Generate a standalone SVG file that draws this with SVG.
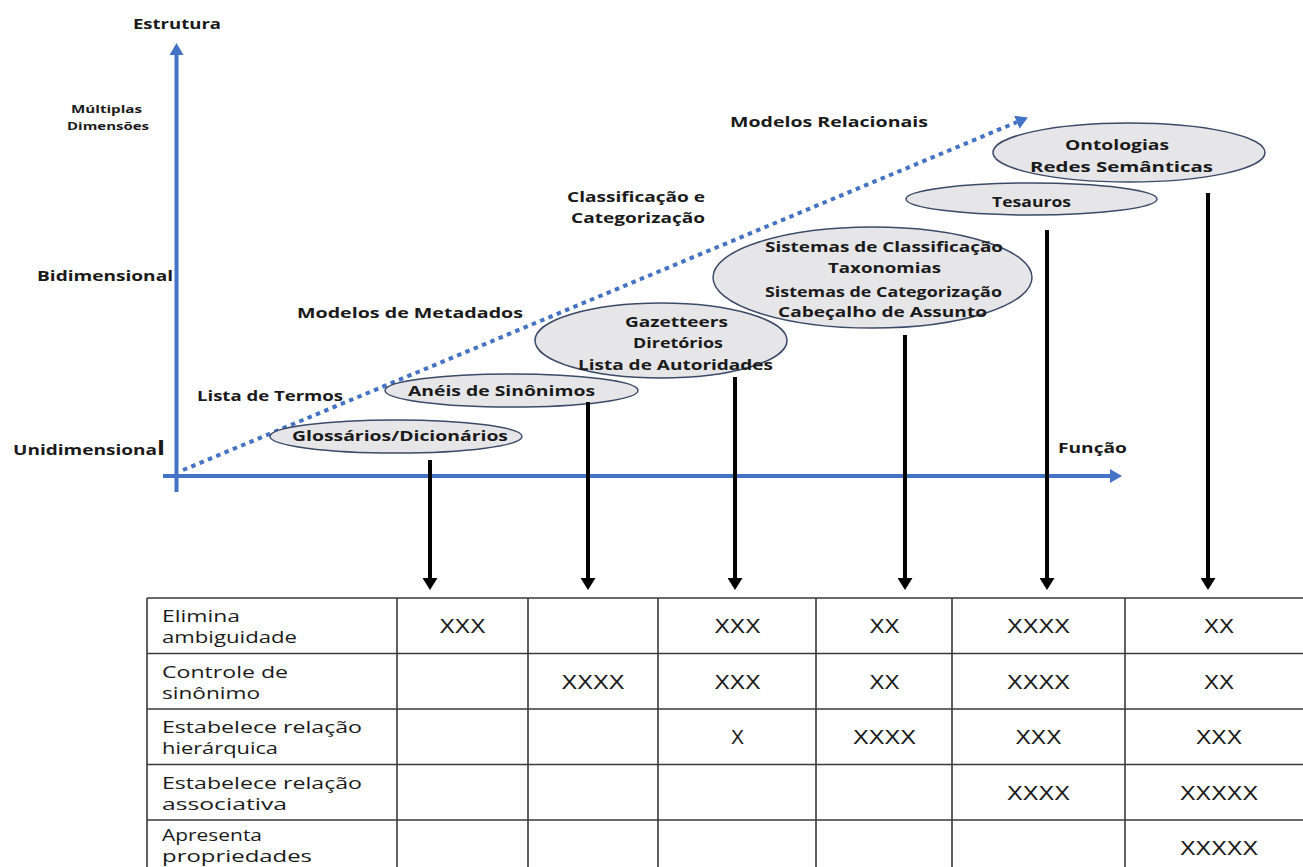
<svg xmlns="http://www.w3.org/2000/svg" width="1303" height="867" viewBox="0 0 1303 867">
<style>
.lb{font-family:"Open Sans",Lato,"Liberation Sans",sans-serif;font-weight:bold;font-size:14.5px;fill:#1a1a1a}
.sm{font-size:10.5px}
.el{fill:#e6e6e9;stroke:#3b4a66;stroke-width:1.5}
.ax{stroke:#4472c4;stroke-width:4;fill:none}
.dot{stroke:#4472c4;stroke-width:4;fill:none;stroke-dasharray:4.5 4.5}
.ar{stroke:#000;stroke-width:4;fill:none}
.tbl{stroke:#3a3a3a;stroke-width:1.6;fill:none}
.tl{font-family:"Open Sans","Liberation Sans",sans-serif;font-size:15.5px;fill:#1a1a1a}
.xc{font-family:"Liberation Sans",Arial,sans-serif;font-size:19.5px;fill:#1a1a1a;text-anchor:middle}
</style>
<defs>
<marker id="bk" markerUnits="userSpaceOnUse" viewBox="0 0 12 15" markerWidth="12" markerHeight="15" refX="0" refY="7.5" orient="auto"><path d="M0,0 L12,7.5 L0,15 z" fill="#000"/></marker>
<marker id="bl" markerUnits="userSpaceOnUse" viewBox="0 0 12 14" markerWidth="12" markerHeight="14" refX="0" refY="7" orient="auto"><path d="M0,0 L12,7 L0,14 z" fill="#4472c4"/></marker>
</defs>
<rect width="1303" height="867" fill="#fff"/>

<g id="axes">
<line class="ax" x1="176.5" y1="492" x2="176.5" y2="55" marker-end="url(#bl)"/>
<line class="ax" x1="163" y1="476" x2="1110" y2="476" marker-end="url(#bl)"/>
<line class="dot" x1="183" y1="470" x2="1016.8" y2="122.2" marker-end="url(#bl)"/>
</g>

<g id="axis-labels">
<text class="lb" x="133" y="29" font-size="15.5" textLength="88" lengthAdjust="spacingAndGlyphs">Estrutura</text>
<text class="lb sm" x="71" y="113" textLength="71" lengthAdjust="spacingAndGlyphs">Múltiplas</text>
<text class="lb sm" x="67" y="130" textLength="82" lengthAdjust="spacingAndGlyphs">Dimensões</text>
<text class="lb" x="37" y="281" textLength="136" lengthAdjust="spacingAndGlyphs">Bidimensional</text>
<text class="lb" x="13" y="455" textLength="152" lengthAdjust="spacingAndGlyphs">Unidimensiona<tspan font-size="20">l</tspan></text>
<text class="lb" x="197" y="401" textLength="146" lengthAdjust="spacingAndGlyphs">Lista de Termos</text>
<text class="lb" x="297" y="318" textLength="226" lengthAdjust="spacingAndGlyphs">Modelos de Metadados</text>
<text class="lb" x="567" y="202" textLength="138" lengthAdjust="spacingAndGlyphs">Classificação e</text>
<text class="lb" x="571" y="223" textLength="134" lengthAdjust="spacingAndGlyphs">Categorização</text>
<text class="lb" x="730" y="127" textLength="198" lengthAdjust="spacingAndGlyphs">Modelos Relacionais</text>
<text class="lb" x="1058" y="453" textLength="69" lengthAdjust="spacingAndGlyphs">Função</text>
</g>

<g id="n-glossarios">
<ellipse class="el" cx="396" cy="436.5" rx="126" ry="16.5"/>
<text class="lb" x="292" y="441" textLength="216" lengthAdjust="spacingAndGlyphs">Glossários/Dicionários</text>
</g>
<g id="n-aneis">
<ellipse class="el" cx="511.5" cy="390.5" rx="126.5" ry="16.5"/>
<text class="lb" x="408" y="396" textLength="187" lengthAdjust="spacingAndGlyphs">Anéis de Sinônimos</text>
</g>
<g id="n-gazetteers">
<ellipse class="el" cx="661" cy="340.5" rx="126" ry="37.5"/>
<text class="lb" x="625" y="327" textLength="103" lengthAdjust="spacingAndGlyphs">Gazetteers</text>
<text class="lb" x="633" y="348" textLength="90" lengthAdjust="spacingAndGlyphs">Diretórios</text>
<text class="lb" x="578" y="370" textLength="195" lengthAdjust="spacingAndGlyphs">Lista de Autoridades</text>
</g>
<g id="n-sistemas">
<ellipse class="el" cx="872.5" cy="277.5" rx="159.5" ry="50.5"/>
<text class="lb" x="765" y="252" textLength="238" lengthAdjust="spacingAndGlyphs">Sistemas de Classificação</text>
<text class="lb" x="828" y="273" textLength="113" lengthAdjust="spacingAndGlyphs">Taxonomias</text>
<text class="lb" x="765" y="297" textLength="237" lengthAdjust="spacingAndGlyphs">Sistemas de Categorização</text>
<text class="lb" x="778" y="317" textLength="209" lengthAdjust="spacingAndGlyphs">Cabeçalho de Assunto</text>
</g>
<g id="n-tesauros">
<ellipse class="el" cx="1031.5" cy="199" rx="125.5" ry="16"/>
<text class="lb" x="992" y="207" textLength="79" lengthAdjust="spacingAndGlyphs">Tesauros</text>
</g>
<g id="n-ontologias">
<ellipse class="el" cx="1129" cy="152.5" rx="136" ry="29.5"/>
<text class="lb" x="1065" y="150" textLength="104" lengthAdjust="spacingAndGlyphs">Ontologias</text>
<text class="lb" x="1030" y="172" textLength="183" lengthAdjust="spacingAndGlyphs">Redes Semânticas</text>
</g>

<g id="connectors">
<line class="ar" x1="430" y1="460" x2="430" y2="578" marker-end="url(#bk)"/>
<line class="ar" x1="588" y1="402" x2="588" y2="578" marker-end="url(#bk)"/>
<line class="ar" x1="735" y1="377" x2="735" y2="578" marker-end="url(#bk)"/>
<line class="ar" x1="905" y1="335" x2="905" y2="578" marker-end="url(#bk)"/>
<line class="ar" x1="1047" y1="230" x2="1047" y2="578" marker-end="url(#bk)"/>
<line class="ar" x1="1208" y1="193" x2="1208" y2="578" marker-end="url(#bk)"/>
</g>

<g id="table">
<path class="tbl" d="M147,598H1303 M147,653.5H1303 M147,709H1303 M147,764.5H1303 M147,820H1303 M147,598V867 M397,598V867 M528,598V867 M658,598V867 M816,598V867 M952,598V867 M1125,598V867"/>
<text class="tl" x="162" y="622" textLength="78" lengthAdjust="spacingAndGlyphs">Elimina</text>
<text class="tl" x="162" y="643" textLength="135" lengthAdjust="spacingAndGlyphs">ambiguidade</text>
<text class="tl" x="162" y="677.5" textLength="126" lengthAdjust="spacingAndGlyphs">Controle de</text>
<text class="tl" x="162" y="698.5" textLength="98" lengthAdjust="spacingAndGlyphs">sinônimo</text>
<text class="tl" x="162" y="733" textLength="200" lengthAdjust="spacingAndGlyphs">Estabelece relação</text>
<text class="tl" x="162" y="754" textLength="116" lengthAdjust="spacingAndGlyphs">hierárquica</text>
<text class="tl" x="162" y="788.5" textLength="200" lengthAdjust="spacingAndGlyphs">Estabelece relação</text>
<text class="tl" x="162" y="809.5" textLength="125" lengthAdjust="spacingAndGlyphs">associativa</text>
<text class="tl" x="162" y="841" textLength="100" lengthAdjust="spacingAndGlyphs">Apresenta</text>
<text class="tl" x="162" y="862" textLength="150" lengthAdjust="spacingAndGlyphs">propriedades</text>

<text class="xc" x="462.5" y="633" textLength="46" lengthAdjust="spacingAndGlyphs">XXX</text>
<text class="xc" x="737.5" y="633" textLength="46" lengthAdjust="spacingAndGlyphs">XXX</text>
<text class="xc" x="884.5" y="633" textLength="30" lengthAdjust="spacingAndGlyphs">XX</text>
<text class="xc" x="1038.5" y="633" textLength="63" lengthAdjust="spacingAndGlyphs">XXXX</text>
<text class="xc" x="1219" y="633" textLength="30" lengthAdjust="spacingAndGlyphs">XX</text>

<text class="xc" x="593" y="688.5" textLength="63" lengthAdjust="spacingAndGlyphs">XXXX</text>
<text class="xc" x="737.5" y="688.5" textLength="46" lengthAdjust="spacingAndGlyphs">XXX</text>
<text class="xc" x="884.5" y="688.5" textLength="30" lengthAdjust="spacingAndGlyphs">XX</text>
<text class="xc" x="1038.5" y="688.5" textLength="63" lengthAdjust="spacingAndGlyphs">XXXX</text>
<text class="xc" x="1219" y="688.5" textLength="30" lengthAdjust="spacingAndGlyphs">XX</text>

<text class="xc" x="737.5" y="744" textLength="13" lengthAdjust="spacingAndGlyphs">X</text>
<text class="xc" x="884.5" y="744" textLength="63" lengthAdjust="spacingAndGlyphs">XXXX</text>
<text class="xc" x="1038.5" y="744" textLength="46" lengthAdjust="spacingAndGlyphs">XXX</text>
<text class="xc" x="1219" y="744" textLength="46" lengthAdjust="spacingAndGlyphs">XXX</text>

<text class="xc" x="1038.5" y="799.5" textLength="63" lengthAdjust="spacingAndGlyphs">XXXX</text>
<text class="xc" x="1219" y="799.5" textLength="78" lengthAdjust="spacingAndGlyphs">XXXXX</text>

<text class="xc" x="1219" y="855" textLength="78" lengthAdjust="spacingAndGlyphs">XXXXX</text>
</g>
</svg>
